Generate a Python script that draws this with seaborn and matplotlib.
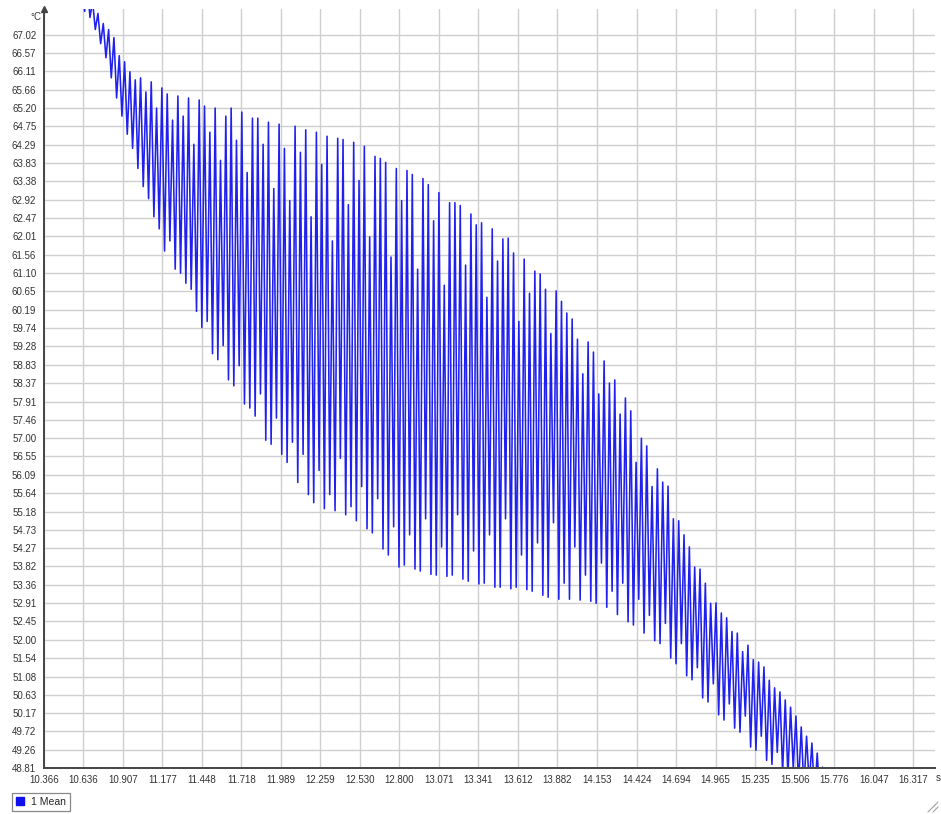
import numpy as np
import pandas as pd
import matplotlib
matplotlib.use("Agg")
import matplotlib.pyplot as plt
from matplotlib.lines import Line2D
import seaborn as sns

# ---- data ----
# successive oscillation maxima (°C), one per cycle
peaks = [68.6, 68.3, 67.85, 67.55, 67.3, 67.15, 66.95, 66.5, 66.35, 66.1,
         65.9, 65.95, 65.6, 65.85, 65.2, 65.7, 65.55, 64.9, 65.5, 65.0,
         65.45, 64.3, 65.4, 65.25, 64.6, 65.2, 63.9, 65.0, 65.2, 64.4,
         65.1, 63.6, 64.95, 64.95, 64.3, 64.85, 63.2, 64.8, 64.2, 62.9,
         64.75, 64.1, 64.66, 62.5, 64.6, 63.8, 64.5, 61.9, 64.45, 64.42,
         62.8, 64.35, 63.4, 64.25, 62.0, 64.0, 63.95, 63.85, 61.5, 63.7,
         62.9, 63.65, 63.55, 61.2, 63.45, 63.3, 62.4, 63.1, 60.8, 62.85,
         62.85, 62.78, 61.3, 62.57, 62.3, 62.35, 60.5, 62.2, 61.4, 61.95,
         61.97, 61.6, 59.9, 61.45, 60.6, 61.15, 61.08, 60.7, 59.6, 60.66,
         60.4, 60.11, 59.96, 59.46, 58.6, 59.39, 59.14, 58.1, 58.92, 58.37,
         58.45, 57.6, 58.0, 57.68, 56.4, 57.0, 56.81, 55.8, 56.24, 55.91,
         55.81, 55.0, 54.95, 54.6, 54.3, 53.8, 53.75, 53.4, 52.9, 52.91,
         52.66, 52.54, 52.2, 52.16, 51.7, 51.86, 51.5, 51.44, 51.32, 50.99,
         50.8, 50.7, 50.5, 50.32, 50.1, 49.83, 49.6, 49.43, 49.18, 48.83]

# successive oscillation minima (°C), one per cycle
troughs = [67.6, 67.45, 67.15, 66.8, 66.45, 65.95, 65.45, 65.0, 64.55, 64.2,
           63.7, 63.25, 62.95, 62.5, 62.2, 61.65, 61.9, 61.2, 61.1, 60.85,
           60.7, 60.15, 59.75, 59.9, 59.1, 58.95, 59.3, 58.45, 58.3, 58.8,
           57.85, 57.75, 57.55, 58.1, 56.95, 56.85, 57.5, 56.6, 56.4, 56.9,
           55.9, 56.6, 55.6, 55.4, 56.2, 55.25, 55.6, 55.2, 56.5, 55.1,
           55.3, 54.95, 55.8, 54.75, 54.65, 55.5, 54.25, 54.1, 54.8, 53.8,
           53.85, 54.6, 53.75, 53.7, 55.0, 53.62, 53.6, 54.3, 53.57, 53.6,
           55.1, 53.5, 53.45, 54.2, 53.38, 53.4, 54.6, 53.3, 53.3, 55.0,
           53.26, 53.3, 54.1, 53.24, 53.2, 54.4, 53.1, 53.05, 54.9, 53.0,
           53.4, 53.0, 54.3, 52.98, 53.6, 52.95, 52.9, 53.9, 52.8, 53.2,
           52.62, 53.4, 52.44, 52.36, 53.0, 52.16, 52.6, 51.97, 51.9, 52.4,
           51.54, 51.4, 51.9, 51.1, 51.0, 51.3, 50.55, 50.45, 50.9, 50.13,
           50.0, 50.4, 49.8, 49.7, 50.1, 49.33, 49.25, 49.6, 49.0, 48.9,
           49.2, 48.7, 48.6, 48.8, 48.4, 48.3, 48.4, 48.1, 48.0, 47.9]

first_cycle_time = 10.626   # s
last_cycle_time = 15.697    # s

x_tick_values = [10.366, 10.636, 10.907, 11.177, 11.448, 11.718, 11.989, 12.259,
                 12.530, 12.800, 13.071, 13.341, 13.612, 13.882, 14.153, 14.424,
                 14.694, 14.965, 15.235, 15.506, 15.776, 16.047, 16.317]
y_tick_values = [48.81, 49.26, 49.72, 50.17, 50.63, 51.08, 51.54, 52.00, 52.45,
                 52.91, 53.36, 53.82, 54.27, 54.73, 55.18, 55.64, 56.09, 56.55,
                 57.00, 57.46, 57.91, 58.37, 58.83, 59.28, 59.74, 60.19, 60.65,
                 61.10, 61.56, 62.01, 62.47, 62.92, 63.38, 63.83, 64.29, 64.75,
                 65.20, 65.66, 66.11, 66.57, 67.02]
series_name = "1 Mean"

# ---- build long-form table (sample clock: max, then min half a cycle later) ----
t_peak = np.linspace(first_cycle_time, last_cycle_time, len(peaks))
half = (t_peak[1] - t_peak[0]) / 2.0
times = np.empty(2 * len(peaks))
vals = np.empty(2 * len(peaks))
times[0::2] = t_peak
times[1::2] = t_peak + half
vals[0::2] = peaks
vals[1::2] = troughs
df = pd.DataFrame({"t": times, "temp": vals})

# ---- style ----
sns.set_style("white")
plt.rcParams["font.family"] = ["Liberation Sans", "DejaVu Sans"]

W, H = 941, 814
fig = plt.figure(figsize=(W / 100, H / 100), dpi=100)
ax_left, ax_right, ax_top, ax_bottom = 44, 935, 9, 768
ax = fig.add_axes([ax_left / W, (H - ax_bottom) / H,
                   (ax_right - ax_left) / W, (ax_bottom - ax_top) / H])

line_color = "#2020f0"
sns.lineplot(data=df, x="t", y="temp", ax=ax, color=line_color,
             linewidth=1.15, estimator=None, sort=False, legend=False)

ax.set_xlim(10.366, 16.467)
ax.set_ylim(48.81, 67.66)
ax.set_xticks(x_tick_values)
ax.set_xticklabels([f"{v:.3f}" for v in x_tick_values])
ax.set_yticks(y_tick_values)
ax.set_yticklabels([f"{v:.2f}" for v in y_tick_values])
ax.set_xlabel("")
ax.set_ylabel("")

ax.grid(True, color="#cfcfcf", linewidth=1.0)
ax.set_axisbelow(True)
for s in ["top", "right"]:
    ax.spines[s].set_visible(False)
for s in ["left", "bottom"]:
    ax.spines[s].set_color("#444444")
    ax.spines[s].set_linewidth(1.4)

ax.tick_params(axis="y", length=4, width=0.8, color="#777777", pad=1.5,
               labelsize=7, labelcolor="#333333")
ax.tick_params(axis="x", length=0, pad=5, labelsize=7, labelcolor="#333333")

# arrow at the top of the y axis
ax.plot([0], [1], marker="^", transform=ax.transAxes, clip_on=False,
        color="#444444", markersize=4.5, zorder=6)

# units
fig.text(41 / W, 1 - 17 / H, "°C", ha="right", va="center", fontsize=7, color="#333333")
fig.text(938 / W, 1 - 778 / H, "s", ha="center", va="center", fontsize=7, color="#333333")

# legend
handle = Line2D([], [], marker="s", color="#1010ee", linestyle="none", markersize=5.5)
leg = fig.legend([handle], [series_name], loc="lower left",
                 bbox_to_anchor=(12 / W, 3 / H), frameon=True, fontsize=7.5,
                 handlelength=0.8, handletextpad=0.6, borderpad=0.4,
                 borderaxespad=0, fancybox=False, edgecolor="#888888", framealpha=1)
leg.get_frame().set_linewidth(0.9)

# resize grip decoration
fig.add_artist(Line2D([928 / W, 938 / W], [1 - 812 / H, 1 - 802 / H], color="#a0a0a0", lw=0.8))
fig.add_artist(Line2D([933 / W, 938 / W], [1 - 812 / H, 1 - 807 / H], color="#a0a0a0", lw=0.8))

fig.savefig("out.png", dpi=100, facecolor="white")
